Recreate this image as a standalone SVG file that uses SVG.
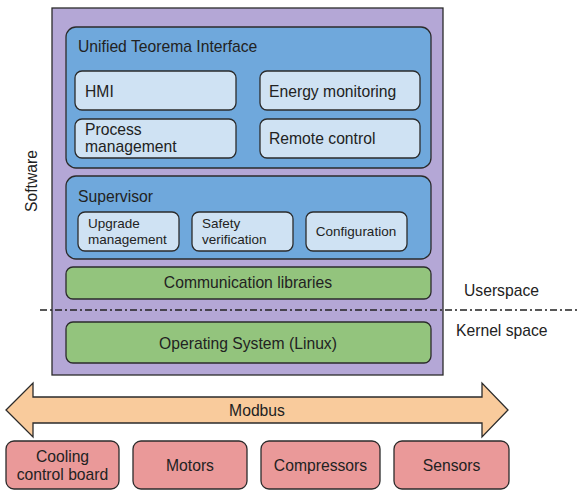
<svg xmlns="http://www.w3.org/2000/svg" width="579" height="491" viewBox="0 0 579 491">
  <style>
    text { font-family: "Liberation Sans", Arial, sans-serif; fill: #222; }
    .t15 { font-size: 15.7px; }
    .t13 { font-size: 13.5px; }
    .mid { text-anchor: middle; }
    .box { stroke: #2b2b2b; stroke-width: 1.3; }
    .purple { fill: #b4a7d6; }
    .blue { fill: #6fa8dc; }
    .light { fill: #cfe2f3; }
    .green { fill: #93c47d; }
    .orange { fill: #f9cb9c; }
    .red { fill: #ea9999; }
  </style>
  <rect width="579" height="491" fill="#ffffff"/>

  <!-- Software container -->
  <g id="software">
    <rect class="box purple" x="52" y="8" width="391" height="367"/>
    <text class="t15 mid" transform="translate(37,181) rotate(-90)">Software</text>
  </g>

  <!-- Unified Teorema Interface -->
  <g id="uti">
    <rect class="box blue" x="66" y="27" width="365" height="141" rx="10"/>
    <text class="t15" x="78" y="52">Unified Teorema Interface</text>
  </g>
  <g id="hmi">
    <rect class="box light" x="75" y="71" width="161" height="39" rx="7"/>
    <text class="t15" x="85" y="97">HMI</text>
  </g>
  <g id="energy">
    <rect class="box light" x="260" y="71" width="160" height="39" rx="7"/>
    <text class="t15" x="269" y="97">Energy monitoring</text>
  </g>
  <g id="process">
    <rect class="box light" x="75" y="119" width="161" height="39" rx="7"/>
    <text class="t15" x="85" y="135">Process</text>
    <text class="t15" x="85" y="152">management</text>
  </g>
  <g id="remote">
    <rect class="box light" x="260" y="119" width="160" height="39" rx="7"/>
    <text class="t15" x="269" y="144">Remote control</text>
  </g>

  <!-- Supervisor -->
  <g id="supervisor">
    <rect class="box blue" x="66" y="176" width="365" height="83" rx="10"/>
    <text class="t15" x="78" y="202">Supervisor</text>
  </g>
  <g id="upgrade">
    <rect class="box light" x="78" y="212" width="101" height="39" rx="7"/>
    <text class="t13" x="88" y="228">Upgrade</text>
    <text class="t13" x="88" y="244">management</text>
  </g>
  <g id="safety">
    <rect class="box light" x="192" y="212" width="101" height="39" rx="7"/>
    <text class="t13" x="202" y="228">Safety</text>
    <text class="t13" x="202" y="244">verification</text>
  </g>
  <g id="configuration">
    <rect class="box light" x="306" y="212" width="101" height="39" rx="7"/>
    <text class="t13 mid" x="356" y="236">Configuration</text>
  </g>

  <!-- Communication libraries -->
  <g id="comm">
    <rect class="box green" x="66" y="267" width="365" height="32" rx="7"/>
    <text class="t15 mid" x="248" y="288">Communication libraries</text>
  </g>

  <!-- Operating system -->
  <g id="os">
    <rect class="box green" x="66" y="322" width="365" height="41" rx="7"/>
    <text class="t15 mid" x="248" y="349">Operating System (Linux)</text>
  </g>

  <!-- Userspace / kernel space boundary -->
  <g id="connectors">
    <line x1="40" y1="310" x2="579" y2="310" stroke="#222" stroke-width="1.3" stroke-dasharray="7,3,2,3"/>
  </g>
  <g id="space-labels">
    <text class="t15" x="464" y="296">Userspace</text>
    <text class="t15" x="456" y="336">Kernel space</text>
  </g>

  <!-- Modbus bus -->
  <g id="modbus">
    <polygon class="box orange" points="6,410 33,383 33,397 482,397 482,383 508,410 482,437 482,423 33,423 33,437"/>
    <text class="t15 mid" x="257" y="416">Modbus</text>
  </g>

  <!-- Field devices -->
  <g id="cooling">
    <rect class="box red" x="6" y="441" width="113" height="48" rx="8"/>
    <text class="t15 mid" x="62.5" y="462">Cooling</text>
    <text class="t15 mid" x="62.5" y="480">control board</text>
  </g>
  <g id="motors">
    <rect class="box red" x="133" y="441" width="114" height="48" rx="8"/>
    <text class="t15 mid" x="190" y="471">Motors</text>
  </g>
  <g id="compressors">
    <rect class="box red" x="261" y="441" width="119" height="48" rx="8"/>
    <text class="t15 mid" x="320.5" y="471">Compressors</text>
  </g>
  <g id="sensors">
    <rect class="box red" x="394" y="441" width="115" height="48" rx="8"/>
    <text class="t15 mid" x="451.5" y="471">Sensors</text>
  </g>
</svg>
